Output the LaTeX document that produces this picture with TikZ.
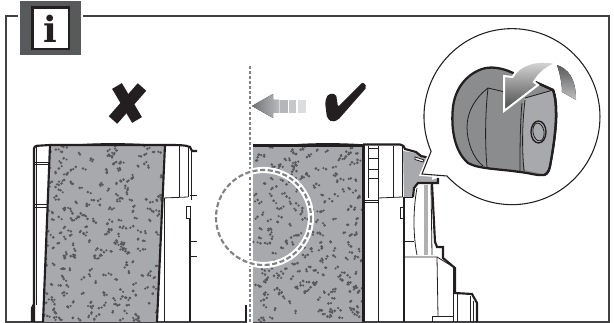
\documentclass[tikz,border=0pt]{standalone}
\usepackage{fontspec}
\newfontfamily\iconfont{DejaVu Serif}
\definecolor{inkdark}{HTML}{231F20}
\definecolor{framegray}{HTML}{414042}
\definecolor{icongray}{HTML}{58595B}
\definecolor{filtergray}{HTML}{A7A9AC}
\definecolor{knobgray}{HTML}{8A8C8E}
\definecolor{speckgray}{HTML}{58595B}
\definecolor{markgray}{HTML}{808285}
\tikzset{
  thinline/.style={draw=inkdark, line width=0.6pt},
  heavyline/.style={draw=inkdark, line width=1.6pt},
  filterfill/.style={fill=filtergray},
  markline/.style={draw=markgray, line width=1.6pt, dash pattern=on 2.2pt off 1.6pt},
  ringline/.style={draw=markgray, line width=1.6pt, dash pattern=on 3.8pt off 1.9pt},
}
\begin{document}
\begin{tikzpicture}[x=0.75pt, y=-0.75pt]
  \useasboundingbox (0,0) rectangle (614,323);
  % outer frame, open behind the icon
  \draw[framegray, line width=1pt] (18,16) -- (6,16) -- (6,322) -- (609,322) -- (609,16) -- (83,16);
  % info icon
  \fill[icongray] (20,1) rectangle (81,55);
  \draw[inkdark, line width=2.2pt, fill=white] (32.5,7.5) rectangle (69,49);
  \node[font=\fontsize{27}{27}\selectfont\iconfont\bfseries, text=inkdark, inner sep=0pt] (infosign) at (50.5,28.5) {i};
  % cross and tick
  \draw[inkdark, line width=8.5pt] (117,86) -- (137,120);
  \draw[inkdark, line width=8.5pt] (142,87) -- (113,120);
  \fill[inkdark, rounded corners=1.5pt] (325,102) -- (328,94) -- (336,94) -- (338,107) -- (363,82) -- (367,87) -- (338,120) -- (332,122) -- (327,118) -- cycle;
  % left filter
  \fill[filterfill] (50,145) -- (165,145) -- (157,322) -- (43,322) -- cycle;
  \begin{scope}
    \clip (50,145) -- (165,145) -- (157,322) -- (43,322) -- cycle;
    \pgfmathsetseed{4127}
    \foreach \n in {1,...,270}{
      \pgfmathsetmacro{\ux}{43+rnd*122}
      \pgfmathsetmacro{\uy}{146+rnd*176}
      \pgfmathsetmacro{\ox}{(rnd-0.5)*6}
      \pgfmathsetmacro{\oy}{(rnd-0.5)*5}
      \fill[speckgray] (\ux,\uy) circle (1.1pt);
      \fill[speckgray] (\ux+\ox,\uy+\oy) circle (0.9pt);
    }
  \end{scope}
  \draw[heavyline] (50,145) -- (43,322);
  \draw[heavyline] (165,145) -- (157,322);
  % left housing
  \draw[heavyline, rounded corners=2pt] (34,322) -- (34,146) -- (50,145);
  \draw[heavyline] (50,145) -- (165,145) .. controls (178,145) and (186,145) .. (190,147) -- (192,151) -- (197,151);
  \fill[inkdark] (70,145) .. controls (95,142.5) and (130,142.5) .. (158,145) -- cycle;
  \draw[thinline] (36,146) -- (36,305);
  \draw[thinline] (35,162) -- (49,162) (35,164) -- (49,164);
  \draw[thinline] (35,204) -- (48,204) (35,207) -- (48,207);
  \draw[heavyline] (32,322) -- (32,308) -- (34,304);
  \draw[thinline] (179,146) -- (179,197);
  \draw[thinline] (188,147) -- (188,197) (191,150) -- (191,200);
  \draw[thinline] (163,198) -- (188,197);
  \draw[thinline] (164,198) -- (164,322);
  \draw[thinline, fill=white] (186.5,206) rectangle (190,218);
  \draw[heavyline] (190,218) -- (190,322);
  \draw[thinline] (190,195) -- (197,195) (190,241) -- (197,241) (190,256) -- (197,256);
  % fold line and arrow
  \fill[white] (246.5,145) rectangle (252.5,323);
  \draw[markline] (250,66) -- (250,322);
  \fill[shade, left color=icongray!85, right color=filtergray!80] (252,106) -- (273,94) -- (273,100) -- (279,100) -- (279,113) -- (273,113) -- (273,118) -- cycle;
  \fill[filtergray!85] (280,100) rectangle (287.5,113);
  \fill[filtergray!65] (289,100) rectangle (295.5,113);
  \fill[filtergray!40] (298,100) rectangle (306,113);
  % right filter
  \fill[filterfill] (252.5,145) rectangle (363,322);
  \begin{scope}
    \clip (252.5,145) rectangle (363,322);
    \pgfmathsetseed{9031}
    \foreach \n in {1,...,255}{
      \pgfmathsetmacro{\ux}{252+rnd*111}
      \pgfmathsetmacro{\uy}{146+rnd*176}
      \pgfmathsetmacro{\ox}{(rnd-0.5)*6}
      \pgfmathsetmacro{\oy}{(rnd-0.5)*5}
      \fill[speckgray] (\ux,\uy) circle (1.1pt);
      \fill[speckgray] (\ux+\ox,\uy+\oy) circle (0.9pt);
    }
  \end{scope}
  \draw[heavyline] (252.5,145.5) -- (363,145.5);
  \fill[inkdark] (285,145) .. controls (310,142.5) and (345,142.5) .. (372,145) -- cycle;
  \draw[line width=1.9pt, draw=inkdark] (363.5,145) -- (363.5,322);
  % dashed ring
  \draw[white, line width=4.6pt] (263.5,217.5) circle (47.5);
  \draw[ringline] (263.5,217.5) circle (47.5);
  % short stroke beside the fold line
  \draw[heavyline] (246,322) -- (246,305);
  % right housing
  \fill[filterfill] (403,151) -- (415,153) -- (424,157) -- (432,157) -- (432,180) -- (438,178) -- (438,183) -- (418,183) -- (414,188) -- (413,197) -- (404,197) -- cycle;
  \draw[heavyline] (363,144.5) -- (400,144.5) .. controls (404,146) .. (405,149) -- (416,152) -- (421,156) -- (430,158);
  \draw[thinline, fill=white] (415,157) -- (424,160) -- (423,162) -- (415,159.5) -- cycle;
  \draw[thinline] (368,146) -- (368,198) (378,146) -- (378,322);
  \foreach \rung in {148,158,169,178}{
    \draw[thinline] (368,\rung) -- (378,\rung);
  }
  \draw[thinline] (393,146) -- (393,197) (402,146) -- (402,197);
  \draw[thinline] (364,202) -- (378,202) (364,200) -- (378,200);
  \draw[thinline] (378,198) -- (403,197);
  \draw[thinline, fill=white] (400.5,207) rectangle (403.5,218);
  \draw[heavyline] (404,197) -- (404,322);
  \draw[thinline] (404,241) -- (414,241);
  \draw[heavyline] (438,178) -- (438,183) -- (418,183) -- (414,188) -- (413,197);
  \draw[thinline] (413,197) -- (404,197);
  \draw[thinline] (417,188) .. controls (413,210) and (413,235) .. (417,255);
  \draw[thinline] (425,185) -- (425,255) (427,185) -- (427,255) (431,185) -- (432,255);
  \draw[heavyline] (432,184) -- (435,242) -- (437,247) -- (443,247) -- (443,258) -- (455,268) -- (455,293) -- (472,294) -- (477,303) -- (477,322);
  \draw[thinline] (405,257) -- (437,257) -- (455,268);
  \draw[thinline] (437,257) -- (438,316);
  \draw[thinline] (432,322) -- (432,316) -- (453,316);
  \draw[thinline] (453,268) -- (453,322) (457,294) -- (457,322) (470,296) -- (470,322) (473,301) -- (473,322);
  % callout bubble with tail
  \draw[white, line width=3pt, fill=white] (447,176) arc (137.6:-203.2:88) -- (422,174) -- cycle;
  \draw[inkdark, line width=0.8pt] (447,176) arc (137.6:-203.2:88) -- (422,174) -- cycle;
  % knob
  \draw[inkdark, line width=1.7pt, fill=knobgray] (512,72.5) .. controls (502,68) and (491,66) .. (482,69) .. controls (465,75) and (455,90) .. (453,107) .. controls (451,125) and (453,150) .. (468,163) .. controls (478,169) and (500,169) .. (520,172) .. controls (530,173) and (538,176) .. (544,175) .. controls (548,174) and (549,170) .. (550,166) .. controls (553,150) and (557,125) .. (556,110) .. controls (556,102) and (555,95) .. (553,90) -- (533,81) -- cycle;
  \fill[filtergray] (524,99) -- (552,91) .. controls (556,105) and (555,130) .. (549,168) -- (544,174) -- (525,170) .. controls (521,150) and (522,120) .. (524,99) -- cycle;
  \draw[inkdark, line width=1.7pt] (533,81) -- (553,90) .. controls (555,95) and (556,102) .. (556,110) .. controls (557,125) and (553,150) .. (550,166) .. controls (549,170) and (548,174) .. (544,175);
  \draw[thinline] (488,88) .. controls (475,98) and (467,112) .. (467,127) .. controls (467,142) and (473,158) .. (483,166);
  \draw[thinline] (488,88) .. controls (485,115) and (485,145) .. (487,167);
  \draw[thinline] (488,88) -- (505,92);
  \draw[thinline] (522,103) .. controls (520,125) and (520,150) .. (520,171);
  \draw[thinline] (525,100) .. controls (522,125) and (522,150) .. (524,171);
  \draw[thinline] (525,98) -- (553,90);
  \draw[inkdark, line width=1pt] (538.5,132) ellipse (7.5 and 11);
  \draw[thinline, rotate around={10:(538.5,132)}] (538.5,132) ellipse (5.5 and 9);
  % turning arrow
  \draw[white, line width=1.5pt, shade, top color=black!12, bottom color=black!72] (504,76) -- (512.5,77) .. controls (518,66) and (535,58) .. (557,63.5) .. controls (546,67) and (539,74) .. (534,82) -- (538,85) -- (504,111) -- cycle;
  \fill[shade, top color=icongray, bottom color=black!25] (557,65) .. controls (568,69) and (576,78) .. (576,100) -- (562,92) .. controls (562,84) and (560,74) .. cycle;
\end{tikzpicture}
\end{document}
